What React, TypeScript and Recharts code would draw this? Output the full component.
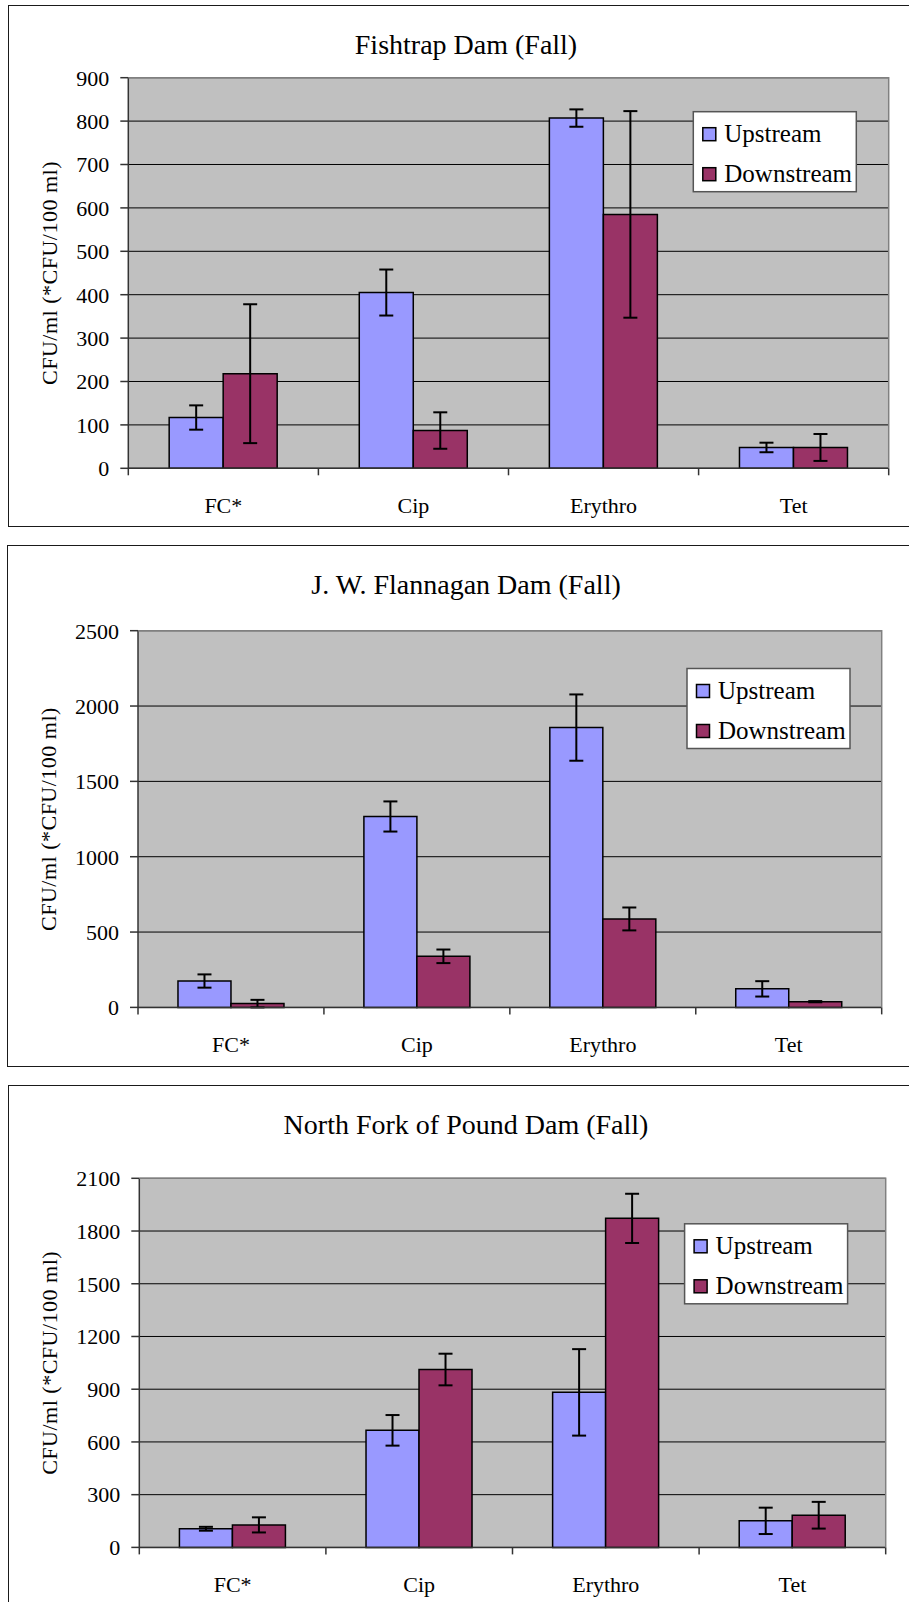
import React from "react";
import { BarChart, Bar, XAxis, YAxis, CartesianGrid, ErrorBar } from "recharts";

const FONT = "Liberation Serif, serif";

const categories = ["FC*", "Cip", "Erythro", "Tet"];
const seriesNames = ["Upstream", "Downstream"];
const seriesColors = ["#9999FF", "#993366"];
const yLabel = "CFU/ml (*CFU/100 ml)";

// Fishtrap Dam
const fishtrapUp = [117, 405, 807, 48];
const fishtrapUpErr = [28, 53, 20, 11];
const fishtrapDown = [218, 87, 585, 48];
const fishtrapDownErr = [160, 42, 238, 31];
const fishtrapTicks = [0, 100, 200, 300, 400, 500, 600, 700, 800, 900];

// J. W. Flannagan Dam
const flannaganUp = [175, 1267, 1857, 123];
const flannaganUpErr = [44, 100, 220, 51];
const flannaganDown = [25, 339, 587, 38];
const flannaganDownErr = [25, 45, 76, 4];
const flannaganTicks = [0, 500, 1000, 1500, 2000, 2500];

// North Fork of Pound Dam
const northForkUp = [106, 666, 882, 151];
const northForkUpErr = [11, 87, 246, 75];
const northForkDown = [128, 1012, 1872, 183];
const northForkDownErr = [43, 90, 140, 76];
const northForkTicks = [0, 300, 600, 900, 1200, 1500, 1800, 2100];

type Box = { l: number; t: number; r: number; b: number };

function CatTick(props: any) {
  const { x, y, payload, index, half, count } = props;
  return (
    <g>
      <line x1={x - half} y1={y} x2={x - half} y2={y + 7} stroke="#333" strokeWidth={1.5} />
      {index === count - 1 && (
        <line x1={x + half} y1={y} x2={x + half} y2={y + 7} stroke="#333" strokeWidth={1.5} />
      )}
      <text x={x} y={y + 45} textAnchor="middle" fill="#000" fontSize={22} style={{ fontFamily: FONT }}>
        {payload.value}
      </text>
    </g>
  );
}

function DamPanel(props: {
  title: string;
  up: number[];
  upErr: number[];
  down: number[];
  downErr: number[];
  ticks: number[];
  panel: Box;
  plot: Box;
  titleY: number;
  labelX: number;
  legend: { l: number; t: number };
}) {
  const { title, up, upErr, down, downErr, ticks, panel, plot, titleY, labelX, legend } = props;
  const W = 909;
  const xAxisH = 50;
  const H = plot.b - panel.t + xAxisH + 10;
  const half = (plot.r - plot.l) / categories.length / 2;
  const data = categories.map((name, i) => ({
    name,
    up: up[i],
    upErr: upErr[i],
    down: down[i],
    downErr: downErr[i],
  }));

  return (
    <>
      {/* panel frame */}
      <div
        style={{
          position: "absolute", left: panel.l, top: panel.t, width: 1000, height: panel.b - panel.t,
          border: "1.5px solid #1a1a1a", boxSizing: "border-box", background: "#fff",
        }}
      />
      <div style={{ position: "absolute", left: 0, top: panel.t, fontFamily: FONT }}>
        <BarChart
          width={W}
          height={H}
          data={data}
          margin={{ top: plot.t - panel.t, right: W - plot.r, bottom: 10, left: 0 }}
          barCategoryGap="21.5%"
          barGap={0}
          style={{ fontFamily: FONT }}
        >
          <CartesianGrid vertical={false} stroke="#000" fill="#c0c0c0" fillOpacity={1} />
          <XAxis
            dataKey="name"
            height={xAxisH}
            interval={0}
            tickSize={0}
            tickMargin={0}
            tickLine={false}
            axisLine={{ stroke: "#333", strokeWidth: 1.5 }}
            tick={(p: any) => <CatTick {...p} half={half} count={categories.length} />}
          />
          <YAxis
            width={plot.l}
            domain={[0, ticks[ticks.length - 1]]}
            ticks={ticks}
            interval={0}
            tickSize={8}
            tickMargin={11}
            axisLine={{ stroke: "#333", strokeWidth: 1.5 }}
            tickLine={{ stroke: "#333", strokeWidth: 1.5 }}
            tick={{ fill: "#000", fontSize: 22, style: { fontFamily: FONT } }}
          />
          <Bar dataKey="up" name={seriesNames[0]} fill={seriesColors[0]} stroke="#000" strokeWidth={1.5} isAnimationActive={false}>
            <ErrorBar dataKey="upErr" direction="y" width={7} stroke="#000" strokeWidth={2} isAnimationActive={false} />
          </Bar>
          <Bar dataKey="down" name={seriesNames[1]} fill={seriesColors[1]} stroke="#000" strokeWidth={1.5} isAnimationActive={false}>
            <ErrorBar dataKey="downErr" direction="y" width={7} stroke="#000" strokeWidth={2} isAnimationActive={false} />
          </Bar>
        </BarChart>
      </div>
      {/* title, axis label, plot frame, legend */}
      <svg
        width={909}
        height={1602}
        style={{ position: "absolute", left: 0, top: 0, pointerEvents: "none", fontFamily: FONT }}
      >
        <polyline
          points={`${plot.l},${plot.t} ${plot.r},${plot.t} ${plot.r},${plot.b}`}
          fill="none"
          stroke="#808080"
          strokeWidth={1.5}
        />
        <text x={466} y={titleY} textAnchor="middle" fontSize={28} fill="#000">
          {title}
        </text>
        <text
          transform={`translate(${labelX}, ${(plot.t + plot.b) / 2}) rotate(-90)`}
          textAnchor="middle"
          dominantBaseline="central"
          fontSize={22}
          letterSpacing={0.5}
          fill="#000"
        >
          {yLabel}
        </text>
        <rect x={legend.l} y={legend.t} width={163} height={80} fill="#fff" stroke="#555" strokeWidth={1.5} />
        {seriesNames.map((s, i) => (
          <g key={s}>
            <rect x={legend.l + 9.5} y={legend.t + 16 + i * 40} width={13} height={13} fill={seriesColors[i]} stroke="#000" strokeWidth={1.5} />
            <text x={legend.l + 31} y={legend.t + 30 + i * 40} fontSize={25} fill="#000">
              {s}
            </text>
          </g>
        ))}
      </svg>
    </>
  );
}

export default function App() {
  return (
    <div style={{ position: "absolute", left: 0, top: 0, width: 909, height: 1602, overflow: "hidden", background: "#fff", fontFamily: FONT }}>
      <DamPanel
        title="Fishtrap Dam (Fall)"
        up={fishtrapUp}
        upErr={fishtrapUpErr}
        down={fishtrapDown}
        downErr={fishtrapDownErr}
        ticks={fishtrapTicks}
        panel={{ l: 8, t: 5, r: 1000, b: 527 }}
        plot={{ l: 128.3, t: 77.7, r: 888.7, b: 468.3 }}
        titleY={54}
        labelX={49.5}
        legend={{ l: 693.3, t: 111.7 }}
      />
      <DamPanel
        title="J. W. Flannagan Dam (Fall)"
        up={flannaganUp}
        upErr={flannaganUpErr}
        down={flannaganDown}
        downErr={flannaganDownErr}
        ticks={flannaganTicks}
        panel={{ l: 7, t: 545, r: 1000, b: 1067 }}
        plot={{ l: 138, t: 630.7, r: 881.7, b: 1007.4 }}
        titleY={594}
        labelX={48}
        legend={{ l: 687, t: 668.5 }}
      />
      <DamPanel
        title="North Fork of Pound Dam (Fall)"
        up={northForkUp}
        upErr={northForkUpErr}
        down={northForkDown}
        downErr={northForkDownErr}
        ticks={northForkTicks}
        panel={{ l: 8, t: 1085, r: 1000, b: 1700 }}
        plot={{ l: 139.3, t: 1178.3, r: 885.7, b: 1547.4 }}
        titleY={1133.6}
        labelX={49}
        legend={{ l: 684.6, t: 1223.8 }}
      />
    </div>
  );
}
